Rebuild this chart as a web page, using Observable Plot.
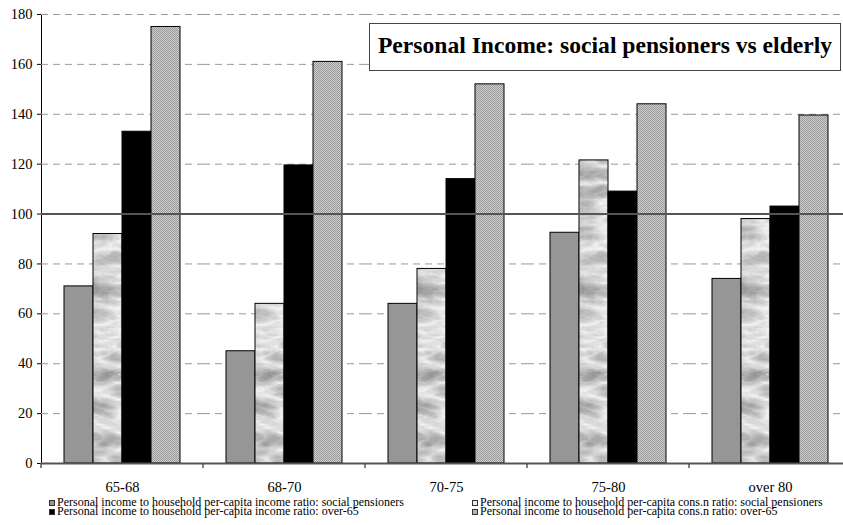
<!DOCTYPE html>
<html>
<head>
<meta charset="utf-8">
<script src="https://cdn.jsdelivr.net/npm/d3@7"></script>
<script src="https://cdn.jsdelivr.net/npm/@observablehq/plot@0.6"></script>
<style>
  body { margin: 0; background: #fff; }
  #wrap { position: relative; width: 843px; height: 525px; overflow: hidden; background: #fff;
          font-family: "Liberation Serif", "Times New Roman", serif; }
  #chart { position: absolute; left: 0; top: 0; }
  #title { position: absolute; left: 369px; top: 23px; width: 470px; height: 46px;
           border: 1.5px solid #444; background: #fff; box-sizing: content-box; }
  #title span { position: absolute; left: 0; right: 0; top: 6px; text-align: center;
           font-weight: bold; font-size: 23.6px; line-height: 30px; white-space: nowrap; color: #000; }
  .leg { position: absolute; font-size: 12px; line-height: 8px; height: 8px; white-space: nowrap; color: #000; }
  .sw { position: absolute; width: 4px; height: 4px; border: 1px solid #333; }
</style>
</head>
<body>
<div id="wrap">
  <div id="chart"></div>
  <div id="title"><span>Personal Income: social pensioners vs elderly</span></div>
  <div id="legend"></div>
</div>
<script>
const categories = ["65-68", "68-70", "70-75", "75-80", "over 80"];
const seriesNames = [
  "Personal income to household per-capita income ratio: social pensioners",
  "Personal income to household per-capita cons.n ratio: social pensioners",
  "Personal income to household per-capita income ratio: over-65",
  "Personal income to household per-capita cons.n ratio: over-65"
];
const incomeSocial = [71, 45, 64, 92.5, 74];
const consSocial   = [92, 64, 78, 121.5, 98];
const incomeOver65 = [133, 119.5, 114, 109, 103];
const consOver65   = [175, 161, 152, 144, 139.5];
const yTicks = [0, 20, 40, 60, 80, 100, 120, 140, 160, 180];

const seriesValues = [incomeSocial, consSocial, incomeOver65, consOver65];
const fills = ["#969696", "url(#marble)", "#000000", "url(#dots)"];
const legendFills = ["#969696", "#ececec", "#000000", "#b4b4b4"];

const rows = [];
categories.forEach((c, i) => {
  seriesNames.forEach((s, j) => rows.push({category: c, series: s, value: seriesValues[j][i]}));
});

const plot = Plot.plot({
  width: 851,
  height: 496,
  marginLeft: 41,
  marginRight: 0,
  marginTop: 14,
  marginBottom: 33,
  style: {fontFamily: "'Liberation Serif', 'Times New Roman', serif", fontSize: "14.5px", color: "#000", background: "transparent", maxWidth: "none", overflow: "visible"},
  facet: {data: rows, x: "category", marginBottom: 33},
  fx: {domain: categories, paddingInner: 0, paddingOuter: 0, axis: "bottom", tickSize: 0, tickPadding: 18.5, label: null},
  x: {domain: seriesNames, paddingInner: 0, paddingOuter: 0.75, axis: null},
  y: {domain: [0, 180], ticks: yTicks, tickSize: 4, tickPadding: 5, line: true, label: null},
  color: {domain: seriesNames, range: fills},
  marks: [
    Plot.ruleY(yTicks.filter(t => t !== 0 && t !== 100), {stroke: "#9a9a9a", strokeWidth: 1, strokeDasharray: "7,5"}),
    Plot.barY(rows, {x: "series", y: "value", fill: "series", stroke: "#000", strokeWidth: 1}),
    Plot.ruleY([100], {stroke: "#555", strokeWidth: 2}),
    Plot.ruleY([0], {stroke: "#555", strokeWidth: 2})
  ]
});

const svg = d3.select(plot.tagName.toLowerCase() === "svg" ? plot : plot.querySelector("svg"));
svg.insert("defs", ":first-child").html(`
  <filter id="marbleF" x="0" y="0" width="1" height="1" color-interpolation-filters="sRGB">
    <feTurbulence type="turbulence" baseFrequency="0.025 0.06" numOctaves="4" seed="11"/>
    <feColorMatrix type="matrix" values="-0.45 0 0 0 0.97  -0.45 0 0 0 0.97  -0.45 0 0 0 0.97  0 0 0 0 1"/>
  </filter>
  <pattern id="marble" patternUnits="userSpaceOnUse" width="200" height="300">
    <rect width="200" height="300" filter="url(#marbleF)"/>
  </pattern>
  <pattern id="dots" patternUnits="userSpaceOnUse" width="2" height="2">
    <rect width="2" height="2" fill="#cdcdcd"/>
    <rect width="1" height="1" fill="#9a9a9a"/>
    <rect x="1" y="1" width="1" height="1" fill="#9a9a9a"/>
  </pattern>`);

// band-edge tick marks on the category axis, from the library's fx scale
const fx = plot.scale("fx");
const ys = plot.scale("y");
const bandStart = fx.apply ? (c => fx.apply(c)) :
  d3.scaleBand().domain(fx.domain).range(fx.range).paddingInner(fx.paddingInner || 0).paddingOuter(fx.paddingOuter || 0);
const y0 = ys.apply ? ys.apply(0) : d3.scaleLinear().domain(ys.domain).range(ys.range)(0);
const edges = categories.map(c => bandStart(c)).concat([bandStart(categories[categories.length - 1]) + fx.bandwidth]);
svg.append("g").selectAll("line").data(edges).join("line")
  .attr("x1", d => d).attr("x2", d => d)
  .attr("y1", y0).attr("y2", y0 + 5)
  .attr("stroke", "#555").attr("stroke-width", 1.5);

document.getElementById("chart").appendChild(plot);

// legend (two columns, two rows)
const legendPos = [
  {sx: 49, tx: 57, top: 498},
  {sx: 472, tx: 480, top: 498},
  {sx: 49, tx: 57, top: 506.5},
  {sx: 472, tx: 480, top: 506.5}
];
const legend = document.getElementById("legend");
seriesNames.forEach((s, j) => {
  const p = legendPos[j];
  const sw = document.createElement("div");
  sw.className = "sw";
  sw.style.left = p.sx + "px";
  sw.style.top = (p.top + 2) + "px";
  sw.style.background = legendFills[j];
  legend.appendChild(sw);
  const t = document.createElement("div");
  t.className = "leg";
  t.style.left = p.tx + "px";
  t.style.top = p.top + "px";
  t.textContent = s;
  legend.appendChild(t);
});
</script>
</body>
</html>
